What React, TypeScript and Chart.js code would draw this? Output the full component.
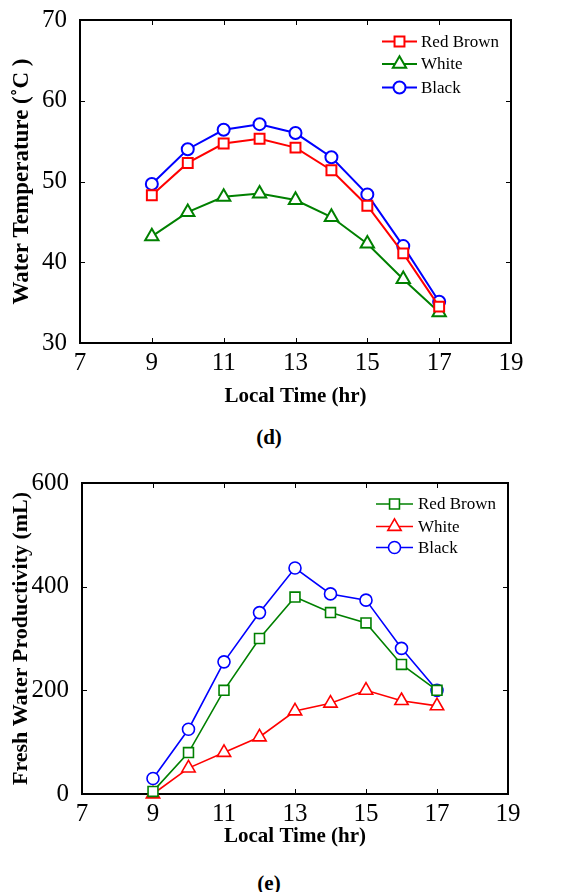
import React, { useEffect, useRef } from 'react';
import { Chart, registerables } from 'chart.js';
Chart.register(...registerables);

const hours = [9, 10, 11, 12, 13, 14, 15, 16, 17];
const seriesLabels = ['Red Brown', 'White', 'Black'];
const tempRedBrown = [48.3, 52.3, 54.7, 55.3, 54.2, 51.4, 47.0, 41.1, 34.5];
const tempWhite = [43.2, 46.2, 48.1, 48.5, 47.7, 45.6, 42.3, 37.9, 33.8];
const tempBlack = [49.7, 54.0, 56.4, 57.1, 56.0, 53.0, 48.4, 42.0, 35.1];
const prodRedBrown = [5, 80, 200, 300, 380, 350, 330, 250, 200];
const prodWhite = [0, 50, 80, 110, 160, 175, 200, 180, 170];
const prodBlack = [30, 125, 255, 350, 436, 386, 374, 281, 200];
const xTicks = [7, 9, 11, 13, 15, 17, 19];
const tempTicks = [30, 40, 50, 60, 70];
const prodTicks = [0, 200, 400, 600];

const FONT = "'Liberation Serif', 'Times New Roman', serif";
const RED = '#ff0000';
const GREEN = '#008000';
const BLUE = '#0000ff';

function markerPath(ctx: CanvasRenderingContext2D, style: string, x: number, y: number, r: number) {
  ctx.beginPath();
  if (style === 'circle') {
    ctx.arc(x, y, r, 0, Math.PI * 2);
  } else if (style === 'rect') {
    const s = Math.SQRT1_2 * r;
    ctx.rect(x - s, y - s, 2 * s, 2 * s);
  } else {
    let rad = 0;
    const t = (2 * Math.PI) / 3;
    ctx.moveTo(x + Math.sin(rad) * r, y - Math.cos(rad) * r);
    rad += t;
    ctx.lineTo(x + Math.sin(rad) * r, y - Math.cos(rad) * r);
    rad += t;
    ctx.lineTo(x + Math.sin(rad) * r, y - Math.cos(rad) * r);
    ctx.closePath();
  }
}

const framePlugin = {
  id: 'frameTicks',
  beforeDatasetsDraw(chart: any) {
    const { ctx, chartArea: a, scales } = chart;
    const o = chart.options.plugins.frameTicks;
    ctx.save();
    ctx.strokeStyle = '#000';
    ctx.lineWidth = 1;
    const tl = 5;
    ctx.beginPath();
    for (const v of o.xt) {
      const px = Math.round(scales.x.getPixelForValue(v)) + 0.5;
      ctx.moveTo(px, a.bottom);
      ctx.lineTo(px, a.bottom - tl);
      ctx.moveTo(px, a.top);
      ctx.lineTo(px, a.top + tl);
    }
    for (const v of o.yt) {
      const py = Math.round(scales.y.getPixelForValue(v)) + 0.5;
      ctx.moveTo(a.left, py);
      ctx.lineTo(a.left + tl, py);
      ctx.moveTo(a.right, py);
      ctx.lineTo(a.right - tl, py);
    }
    ctx.stroke();
    ctx.lineWidth = 2;
    ctx.strokeRect(a.left, a.top, a.right - a.left, a.bottom - a.top);
    ctx.restore();
  },
  afterDraw(chart: any) {
    const { ctx, chartArea: a } = chart;
    const o = chart.options.plugins.frameTicks;
    ctx.save();
    chart.data.datasets.forEach((ds: any, i: number) => {
      const y = a.top + o.rows[i];
      ctx.strokeStyle = ds.borderColor;
      ctx.lineWidth = ds.borderWidth;
      ctx.beginPath();
      ctx.moveTo(o.lx0, y);
      ctx.lineTo(o.lx1, y);
      ctx.stroke();
      markerPath(ctx, ds.pointStyle, (o.lx0 + o.lx1) / 2, y, ds.pointRadius);
      ctx.fillStyle = '#fff';
      ctx.fill();
      ctx.lineWidth = ds.pointBorderWidth;
      ctx.stroke();
      ctx.fillStyle = '#000';
      ctx.font = `17px ${FONT}`;
      ctx.textAlign = 'left';
      ctx.textBaseline = 'middle';
      ctx.fillText(ds.label, o.tx, y + 1);
    });
    ctx.restore();
  },
};

function makeConfig(p: any): any {
  const styles: Record<string, number> = { circle: 6, rect: 7, triangle: 7.7 };
  return {
    type: 'line',
    data: {
      datasets: p.series.map((s: any) => ({
        label: s.label,
        data: hours.map((h, i) => ({ x: h, y: s.values[i] })),
        borderColor: s.color,
        backgroundColor: '#fff',
        borderWidth: p.lw,
        pointStyle: s.style,
        pointRadius: styles[s.style],
        pointBorderWidth: p.lw,
        pointBackgroundColor: '#fff',
        pointBorderColor: s.color,
        tension: 0,
        clip: false,
      })),
    },
    options: {
      animation: false,
      responsive: false,
      maintainAspectRatio: false,
      layout: { padding: { top: p.padTop, right: p.padRight, left: 0, bottom: 0 } },
      plugins: {
        legend: { display: false },
        tooltip: { enabled: false },
        frameTicks: { xt: xTicks, yt: p.yTicks, rows: p.rows, lx0: p.lx0, lx1: p.lx1, tx: p.tx },
      },
      scales: {
        x: {
          type: 'linear',
          min: 7,
          max: 19,
          afterBuildTicks: (s: any) => {
            s.ticks = xTicks.map((v) => ({ value: v }));
          },
          afterFit: (s: any) => {
            s.height = p.xHeight;
          },
          grid: { display: false },
          border: { display: false },
          ticks: {
            font: { family: FONT, size: 25 },
            color: '#000',
            padding: -3,
            maxRotation: 0,
            autoSkip: false,
          },
          title: {
            display: true,
            text: 'Local Time (hr)',
            color: '#000',
            font: { family: FONT, size: 21, weight: 'bold' },
            padding: { top: 0, bottom: p.xTitlePad },
          },
        },
        y: {
          type: 'linear',
          min: p.yMin,
          max: p.yMax,
          afterBuildTicks: (s: any) => {
            s.ticks = p.yTicks.map((v: number) => ({ value: v }));
          },
          afterFit: (s: any) => {
            s.width = p.yWidth;
          },
          grid: { display: false },
          border: { display: false },
          ticks: {
            font: { family: FONT, size: 25 },
            color: '#000',
            padding: 5,
            autoSkip: false,
          },
          title: {
            display: true,
            text: p.yTitle,
            color: '#000',
            font: { family: FONT, size: p.yTitleSize, weight: 'bold' },
            padding: { top: 8, bottom: 0 },
          },
        },
      },
    },
    plugins: [framePlugin],
  };
}

export default function App() {
  const topRef = useRef<HTMLCanvasElement>(null);
  const botRef = useRef<HTMLCanvasElement>(null);

  useEffect(() => {
    const c1 = new Chart(
      topRef.current as HTMLCanvasElement,
      makeConfig({
        series: [
          { label: seriesLabels[0], values: tempRedBrown, color: RED, style: 'rect' },
          { label: seriesLabels[1], values: tempWhite, color: GREEN, style: 'triangle' },
          { label: seriesLabels[2], values: tempBlack, color: BLUE, style: 'circle' },
        ],
        lw: 2,
        yMin: 30,
        yMax: 70,
        yTicks: tempTicks,
        yTitle: 'Water Temperature (˚C )',
        yTitleSize: 23,
        padTop: 19,
        padRight: 59,
        yWidth: 80,
        xHeight: 77,
        xTitlePad: 11,
        rows: [21.5, 44, 67.5],
        lx0: 382,
        lx1: 417,
        tx: 421,
      })
    );
    const c2 = new Chart(
      botRef.current as HTMLCanvasElement,
      makeConfig({
        series: [
          { label: seriesLabels[0], values: prodRedBrown, color: GREEN, style: 'rect' },
          { label: seriesLabels[1], values: prodWhite, color: RED, style: 'triangle' },
          { label: seriesLabels[2], values: prodBlack, color: BLUE, style: 'circle' },
        ],
        lw: 1.6,
        yMin: 0,
        yMax: 600,
        yTicks: prodTicks,
        yTitle: 'Fresh Water Productivity (mL)',
        yTitleSize: 22,
        padTop: 33,
        padRight: 62,
        yWidth: 82,
        xHeight: 76,
        xTitlePad: 20.5,
        rows: [21, 43.5, 64.5],
        lx0: 376,
        lx1: 413,
        tx: 418,
      })
    );
    return () => {
      c1.destroy();
      c2.destroy();
    };
  }, []);

  const cap: React.CSSProperties = {
    position: 'absolute',
    left: 0,
    width: 538,
    textAlign: 'center',
    fontFamily: FONT,
    fontWeight: 'bold',
    fontSize: 21,
    lineHeight: '24px',
    color: '#000',
  };

  return (
    <div style={{ position: 'absolute', left: 0, top: 0, width: 570, height: 892, background: '#fff', overflow: 'hidden' }}>
      <canvas ref={topRef} width={570} height={420} style={{ position: 'absolute', left: 0, top: 0 }} />
      <div style={{ ...cap, top: 425 }}>(d)</div>
      <canvas ref={botRef} width={570} height={420} style={{ position: 'absolute', left: 0, top: 450 }} />
      <div style={{ ...cap, top: 871 }}>(e)</div>
    </div>
  );
}
